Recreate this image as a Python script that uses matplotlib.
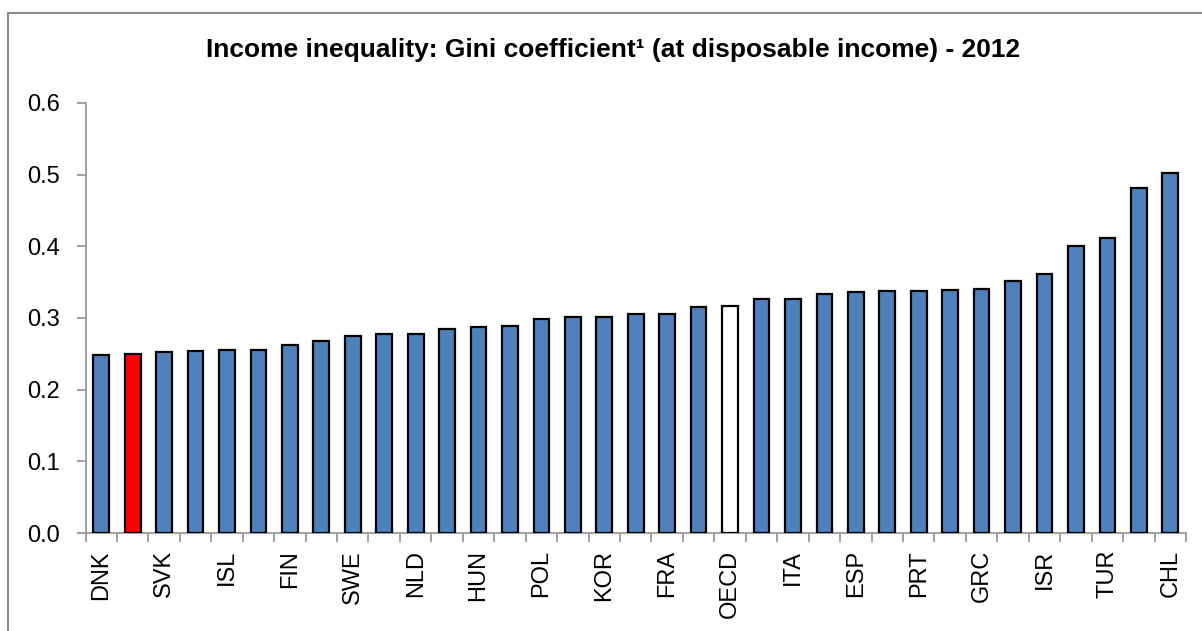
import matplotlib
matplotlib.use("Agg")
import matplotlib.pyplot as plt
from matplotlib import font_manager as fm
from matplotlib.patches import Rectangle

countries = ["DNK", "SVN", "SVK", "NOR", "ISL", "CZE", "FIN", "BEL", "SWE", "AUT",
             "NLD", "CHE", "HUN", "DEU", "POL", "LUX", "KOR", "IRL", "FRA", "CAN",
             "OECD", "JPN", "ITA", "AUS", "ESP", "NZL", "PRT", "GBR", "GRC", "EST",
             "ISR", "USA", "TUR", "MEX", "CHL"]
gini = [0.249, 0.250, 0.252, 0.254, 0.256, 0.256, 0.263, 0.268, 0.275, 0.277,
        0.278, 0.285, 0.288, 0.289, 0.298, 0.302, 0.302, 0.305, 0.306, 0.316,
        0.317, 0.326, 0.327, 0.334, 0.336, 0.337, 0.338, 0.339, 0.340, 0.352,
        0.361, 0.401, 0.412, 0.482, 0.503]
highlight = "SVN"
average = "OECD"
title = "Income inequality: Gini coefficient\u00b9 (at disposable income) - 2012"
yticks = [0.0, 0.1, 0.2, 0.3, 0.4, 0.5, 0.6]

names = {f.name for f in fm.fontManager.ttflist}
body_font = "Liberation Sans" if "Liberation Sans" in names else "DejaVu Sans"
title_font = "Liberation Sans Narrow" if "Liberation Sans Narrow" in names else body_font

PX = 72 / 100  # points per pixel

fig = plt.figure(figsize=(12.02, 6.31), dpi=100)
ax = fig.add_axes([85.5 / 1202, 1 - 533 / 631, (1186 - 85.5) / 1202, (533 - 103) / 631])

colors = []
for c in countries:
    if c == highlight:
        colors.append("#FF0000")
    elif c == average:
        colors.append("#FFFFFF")
    else:
        colors.append("#4F81BD")

x = list(range(len(countries)))
ax.bar(x, gini, width=0.5, color=colors, edgecolor="black", linewidth=1.6, zorder=3)

ax.set_xlim(-0.5, len(countries) - 0.5)
ax.set_ylim(0, 0.6)
ax.set_yticks(yticks)
ax.set_yticklabels([f"{v:.1f}" for v in yticks], fontsize=17, fontfamily=body_font)
ax.set_xticks(x)
ax.set_xticklabels([c if i % 2 == 0 else "" for i, c in enumerate(countries)],
                   rotation=90, fontsize=17, fontfamily=body_font)
ax.set_xticks([i - 0.5 for i in range(len(countries) + 1)], minor=True)
ax.tick_params(axis="x", which="major", length=0, pad=17 * PX)
ax.tick_params(axis="x", which="minor", length=9 * PX, width=1.3, color="#999999")
ax.tick_params(axis="y", length=9 * PX, width=1.3, color="#999999", pad=17 * PX)

for s in ["top", "right"]:
    ax.spines[s].set_visible(False)
for s in ["left", "bottom"]:
    ax.spines[s].set_color("#999999")
    ax.spines[s].set_linewidth(1.3)

fig.text(613 / 1202, 1 - 50 / 631, title, ha="center", va="center", fontsize=19,
         fontweight="bold", fontfamily=title_font)

border = Rectangle((8 / 1202, -0.05), 1.1, 1 - 12.5 / 631 + 0.05, transform=fig.transFigure,
                   fill=False, edgecolor="#8c8c8c", linewidth=1.5)
fig.patches.append(border)

fig.savefig("out.png", dpi=100)
